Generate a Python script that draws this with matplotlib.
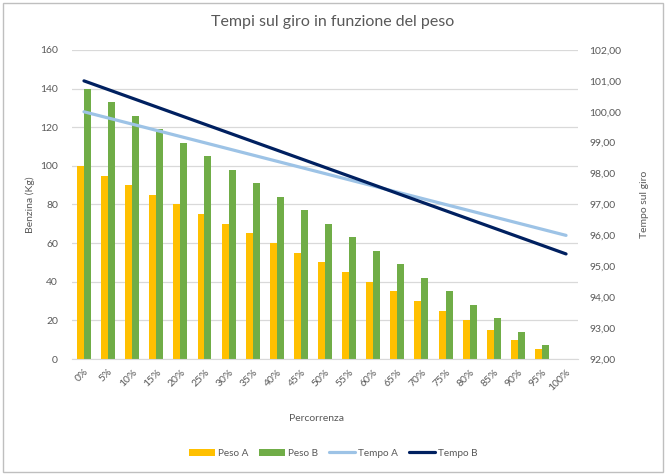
import matplotlib.pyplot as plt
from matplotlib.patches import Rectangle
from matplotlib.ticker import FuncFormatter

plt.rcParams['font.family'] = ['Lato', 'DejaVu Sans']

# Dati
percorrenza = ['0%', '5%', '10%', '15%', '20%', '25%', '30%', '35%', '40%', '45%', '50%',
               '55%', '60%', '65%', '70%', '75%', '80%', '85%', '90%', '95%', '100%']
peso_a = [100, 95, 90, 85, 80, 75, 70, 65, 60, 55, 50, 45, 40, 35, 30, 25, 20, 15, 10, 5, 0]
peso_b = [140, 133, 126, 119, 112, 105, 98, 91, 84, 77, 70, 63, 56, 49, 42, 35, 28, 21, 14, 7, 0]
tempo_a = [100.0, 99.8, 99.6, 99.4, 99.2, 99.0, 98.8, 98.6, 98.4, 98.2, 98.0,
           97.8, 97.6, 97.4, 97.2, 97.0, 96.8, 96.6, 96.4, 96.2, 96.0]
tempo_b = [101.0, 100.72, 100.44, 100.16, 99.88, 99.6, 99.32, 99.04, 98.76, 98.48, 98.2,
           97.92, 97.64, 97.36, 97.08, 96.8, 96.52, 96.24, 95.96, 95.68, 95.4]

testo = '#595959'
griglia = '#D9D9D9'

fig = plt.figure(figsize=(6.66, 4.74), dpi=100)
ax = fig.add_axes([0.108, 0.2426, 0.76, 0.652])
ax2 = ax.twinx()

x = list(range(len(percorrenza)))
w = 0.29
ax.bar([i - w / 2 for i in x], peso_a, width=w, color='#FFC000', label='Peso A', zorder=2)
ax.bar([i + w / 2 for i in x], peso_b, width=w, color='#70AD47', label='Peso B', zorder=2)
ax2.plot(x, tempo_a, color='#9DC3E6', lw=2.3, label='Tempo A', solid_capstyle='round')
ax2.plot(x, tempo_b, color='#002060', lw=2.3, label='Tempo B', solid_capstyle='round')

ax.set_xlim(-0.5, len(x) - 0.5)
ax.set_ylim(0, 160)
ax.set_yticks(range(0, 161, 20))
ax2.set_ylim(92, 102)
ax2.set_yticks(range(92, 103))
ax2.yaxis.set_major_formatter(FuncFormatter(lambda v, p: f'{v:.2f}'.replace('.', ',')))

ax.set_xticks(x)
ax.set_xticklabels(percorrenza, rotation=45, ha='right', rotation_mode='anchor')
ax.grid(axis='y', color=griglia, lw=0.9, zorder=0)
ax.set_axisbelow(True)

for a in (ax, ax2):
    for s in a.spines.values():
        s.set_visible(False)
    a.tick_params(length=0, colors=testo, labelsize=7.5)
ax.spines['bottom'].set_visible(True)
ax.spines['bottom'].set_color(griglia)
ax.tick_params(axis='y', pad=10)
ax.tick_params(axis='x', pad=6)
ax2.tick_params(axis='y', pad=8)

fig.text(0.5, 0.953, 'Tempi sul giro in funzione del peso', ha='center', va='center',
         fontsize=11.5, color=testo)
fig.text(0.045, 0.568, 'Benzina (Kg)', rotation=90, ha='center', va='center',
         fontsize=7.5, color=testo)
fig.text(0.967, 0.568, 'Tempo sul giro', rotation=90, ha='center', va='center',
         fontsize=7.5, color=testo)
fig.text(0.475, 0.118, 'Percorrenza', ha='center', va='center', fontsize=7.5, color=testo)

h1, l1 = ax.get_legend_handles_labels()
h2, l2 = ax2.get_legend_handles_labels()
fig.legend(h1 + h2, l1 + l2, loc='center', bbox_to_anchor=(0.5, 0.044), ncol=4,
           frameon=False, fontsize=7.2, labelcolor=testo, handlelength=2.6,
           handleheight=0.7, columnspacing=1.1, handletextpad=0.3)

fig.patches.append(Rectangle((0.004, 0.004), 0.992, 0.99, transform=fig.transFigure,
                             fill=False, edgecolor='#BFBFBF', lw=1))

fig.savefig('out.png', dpi=100)
